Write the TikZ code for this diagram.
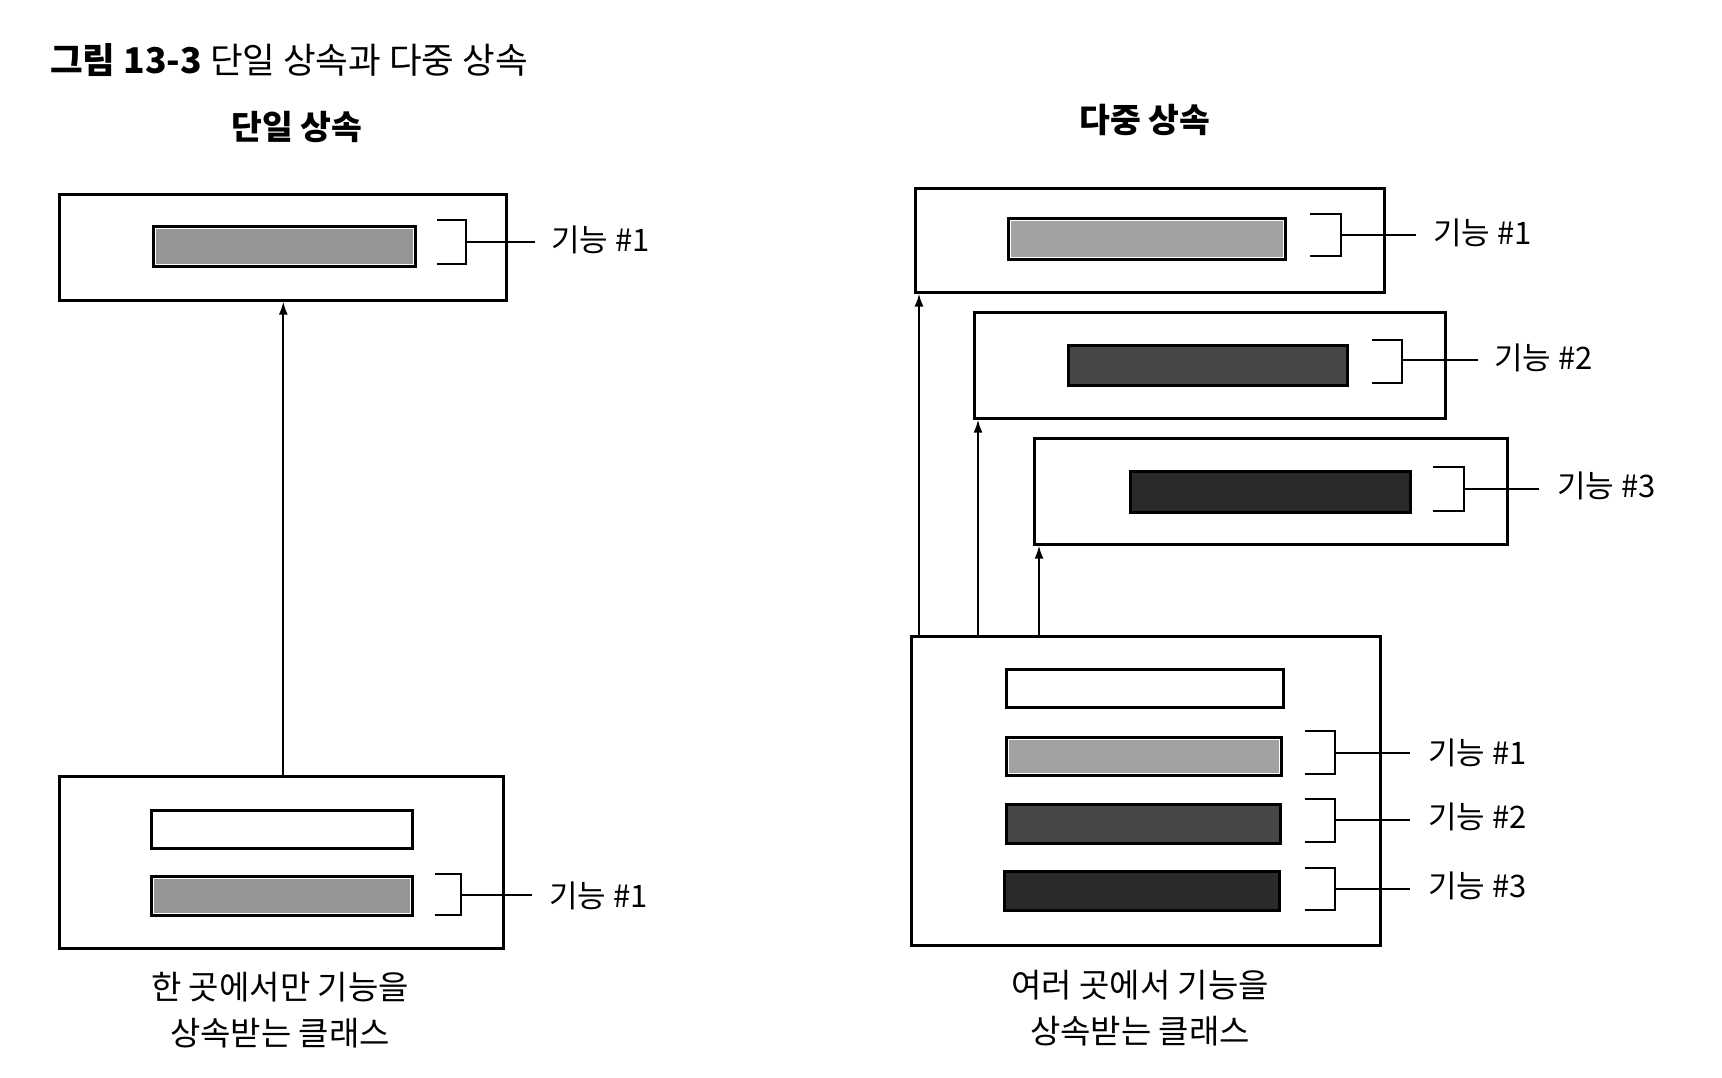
\documentclass[tikz,border=0pt]{standalone}
\usepackage{fontspec}
\setmainfont{Noto Sans CJK KR}
\usetikzlibrary{arrows.meta}
\definecolor{lgA}{HTML}{959595}
\definecolor{lgB}{HTML}{A2A2A2}
\definecolor{dgA}{HTML}{474747}
\definecolor{dgB}{HTML}{2A2A2A}
\begin{document}
\begin{tikzpicture}[x=1pt,y=-1pt,
  box/.style={draw=black, line width=2.6pt, fill=white, inner sep=0pt, anchor=north west},
  bar/.style={draw=black, line width=3pt, inner sep=0pt, anchor=north west},
  hl/.style={path picture={\draw[white, line width=1pt]
     ([xshift=2.4pt,yshift=-2.4pt]path picture bounding box.north west) rectangle
     ([xshift=-2.4pt,yshift=2.4pt]path picture bounding box.south east);}},
  sz/.style 2 args={minimum width=#1pt, minimum height=#2pt},
  brk/.style={draw=black, line width=2.6pt},
  tick/.style={draw=black, line width=2.4pt},
  arr/.style={draw=black, line width=2pt, -{Latex[length=13pt,width=9pt]}},
  lab/.style={anchor=west, inner sep=0pt, font=\fontsize{31}{34}\selectfont},
  head/.style={font=\fontsize{33.5}{36}\selectfont\bfseries, inner sep=0pt},
  captxt/.style={font=\fontsize{33}{46}\selectfont, align=center, inner sep=0pt}
]
\useasboundingbox[fill=white] (0,0) rectangle (1722,1077);

% title
\node[anchor=west, inner sep=0pt, font=\fontsize{35.5}{38}\selectfont] (title) at (50,60)
  {\textbf{그림 13-3} 단일 상속과 다중 상속};

% headings
\node[head] (hs) at (297,127) {단일 상속};
\node[head] (hm) at (1145,120) {다중 상속};

% ---------- single inheritance ----------
\node[box, sz={447}{106}] (L1) at (58,193) {};
\node[bar, hl, sz={262}{40}, fill=lgA] (L1a) at (152,225) {};
\draw[brk] (437,220) -- (466,220) -- (466,264) -- (437,264);
\coordinate (L1b) at (466,242);
\node[lab] (L1l) at (551,240) {기능 \#1};
\draw[tick] (L1b) -- ([xshift=-16pt]L1l.west |- L1b);

\node[box, sz={444}{172}] (L2) at (58,775) {};
\node[bar, sz={261}{38}, fill=white] (L2w) at (150,809) {};
\node[bar, hl, sz={261}{39}, fill=lgA] (L2a) at (150,875) {};
\draw[brk] (435,874) -- (461,874) -- (461,915) -- (435,915);
\coordinate (L2b) at (461,895);
\node[lab] (L2l) at (549,896) {기능 \#1};
\draw[tick] (L2b) -- ([xshift=-17pt]L2l.west |- L2b);

\draw[arr] ([xshift=2pt]L2.north) -- ([xshift=2pt]L2.north |- L1.south);

\node[captxt] (capL) at (280,1010) {한 곳에서만 기능을\\상속받는 클래스};

% ---------- multiple inheritance ----------
\node[box, sz={469}{104}] (R1) at (914,187) {};
\node[bar, hl, sz={277}{41}, fill=lgB] (R1a) at (1007,217) {};
\draw[brk] (1310,214) -- (1341,214) -- (1341,256) -- (1310,256);
\coordinate (R1b) at (1341,235);
\node[lab] (R1l) at (1433,233) {기능 \#1};
\draw[tick] (R1b) -- ([xshift=-17pt]R1l.west |- R1b);

\node[box, sz={471}{106}] (R2) at (973,311) {};
\node[bar, sz={279}{40}, fill=dgA] (R2a) at (1067,344) {};
\draw[brk] (1372,340) -- (1402,340) -- (1402,383) -- (1372,383);
\coordinate (R2b) at (1402,360);
\node[lab] (R2l) at (1494,358) {기능 \#2};
\draw[tick] (R2b) -- ([xshift=-16pt]R2l.west |- R2b);

\node[box, sz={473}{106}] (R3) at (1033,437) {};
\node[bar, sz={280}{41}, fill=dgB] (R3a) at (1129,470) {};
\draw[brk] (1433,467) -- (1464,467) -- (1464,511) -- (1433,511);
\coordinate (R3b) at (1464,489);
\node[lab] (R3l) at (1557,486) {기능 \#3};
\draw[tick] (R3b) -- ([xshift=-18pt]R3l.west |- R3b);

\node[box, sz={469}{309}] (R4) at (910,635) {};
\node[bar, sz={277}{38}, fill=white] (R4w) at (1005,668) {};
\node[bar, hl, sz={275}{38}, fill=lgB] (R4a) at (1005,736) {};
\node[bar, sz={274}{39}, fill=dgA] (R4c) at (1005,803) {};
\node[bar, sz={275}{39}, fill=dgB] (R4d) at (1003,870) {};
\draw[brk] (1305,731) -- (1335,731) -- (1335,774) -- (1305,774);
\draw[brk] (1305,799) -- (1335,799) -- (1335,842) -- (1305,842);
\draw[brk] (1305,868) -- (1335,868) -- (1335,910) -- (1305,910);
\coordinate (R4b1) at (1335,753);
\coordinate (R4b2) at (1335,820);
\coordinate (R4b3) at (1335,889);
\node[lab] (R4l1) at (1428,753) {기능 \#1};
\node[lab] (R4l2) at (1428,817) {기능 \#2};
\node[lab] (R4l3) at (1428,886) {기능 \#3};
\draw[tick] (R4b1) -- ([xshift=-18pt]R4l1.west |- R4b1);
\draw[tick] (R4b2) -- ([xshift=-18pt]R4l2.west |- R4b2);
\draw[tick] (R4b3) -- ([xshift=-18pt]R4l3.west |- R4b3);

\draw[arr] ([xshift=9pt]R4.north west) -- ([xshift=9pt]R4.north west |- R1.south);
\draw[arr] ([xshift=68pt]R4.north west) -- ([xshift=68pt]R4.north west |- R2.south);
\draw[arr] ([xshift=129pt]R4.north west) -- ([xshift=129pt]R4.north west |- R3.south);

\node[captxt] (capR) at (1140,1008) {여러 곳에서 기능을\\상속받는 클래스};
\end{tikzpicture}
\end{document}
